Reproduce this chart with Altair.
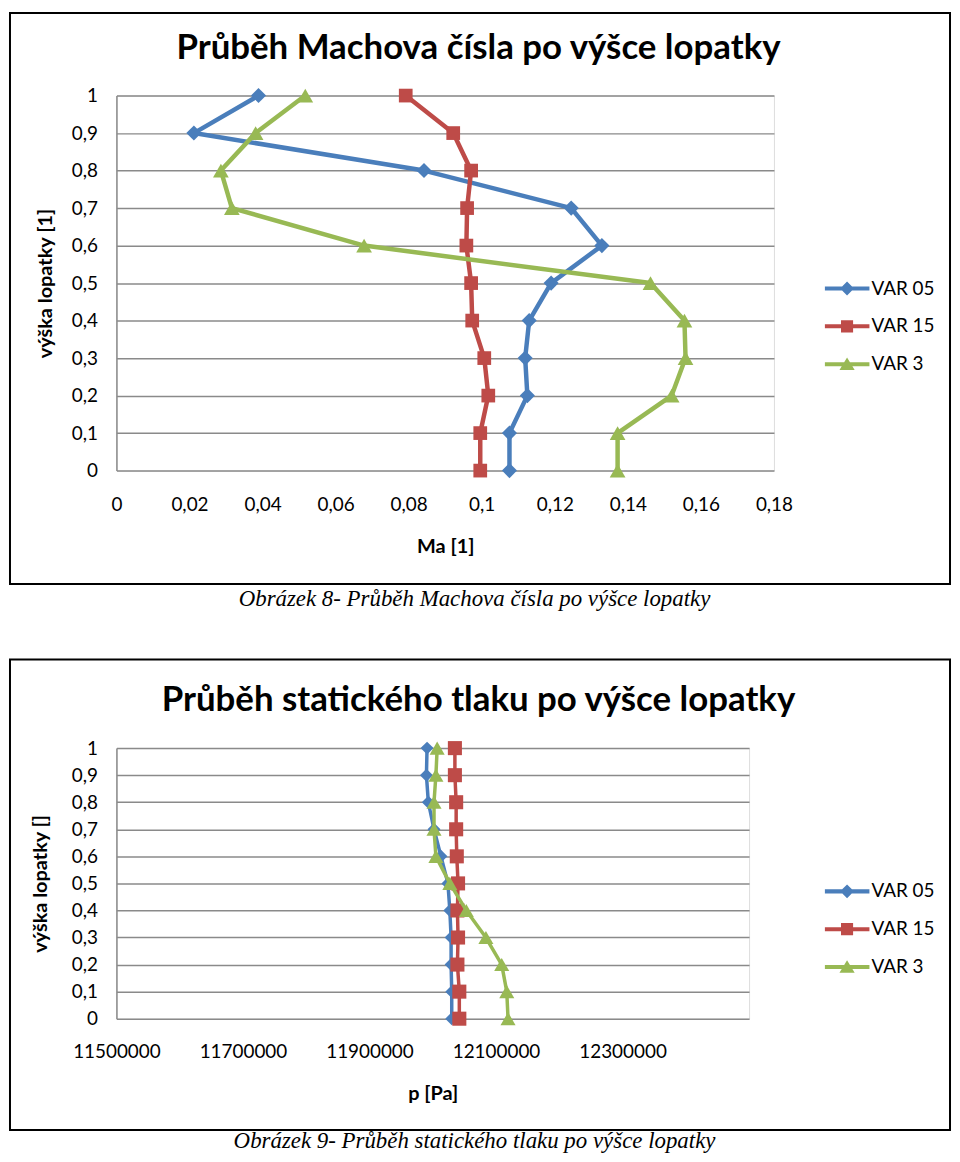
import altair as alt
import pandas as pd

# ---------------- data ----------------
series_names = ["VAR 05", "VAR 15", "VAR 3"]
y_levels = [1.0, 0.9, 0.8, 0.7, 0.6, 0.5, 0.4, 0.3, 0.2, 0.1, 0.0]

ma_var05 = [0.0389, 0.0212, 0.0842, 0.1245, 0.1329, 0.1190, 0.1130, 0.1119, 0.1125, 0.1076, 0.1076]
ma_var15 = [0.0792, 0.0922, 0.0971, 0.0960, 0.0958, 0.0971, 0.0974, 0.1007, 0.1018, 0.0996, 0.0996]
ma_var3 = [0.0517, 0.0381, 0.0286, 0.0316, 0.0678, 0.1462, 0.1555, 0.1558, 0.1520, 0.1372, 0.1372]

p_var05 = [11991000, 11990000, 11993000, 12002000, 12013000, 12024000, 12027000, 12029000, 12029000, 12030000, 12030000]
p_var15 = [12035000, 12035000, 12037000, 12037000, 12038000, 12040000, 12039000, 12040000, 12039000, 12042000, 12042000]
p_var3 = [12007000, 12005000, 12002000, 12002000, 12005000, 12027000, 12053000, 12084000, 12109000, 12117000, 12119000]

ma_ticks = [0, 0.02, 0.04, 0.06, 0.08, 0.1, 0.12, 0.14, 0.16, 0.18]
p_ticks = [11500000, 11700000, 11900000, 12100000, 12300000]

title1 = "Průběh Machova čísla po výšce lopatky"
title2 = "Průběh statického tlaku po výšce lopatky"
caption1 = "Obrázek 8- Průběh Machova čísla po výšce lopatky"
caption2 = "Obrázek 9- Průběh statického tlaku po výšce lopatky"
xtitle1 = "Ma [1]"
xtitle2 = "p [Pa]"
ytitle1 = "výška lopatky [1]"
ytitle2 = "výška lopatky []"

# ---------------- styles ----------------
series_colors = ["#4A7EBB", "#BE4B48", "#98B954"]
marker_shapes = ["diamond", "square", "triangle-up"]
legend_paths = [
    "M-1,-0.09H1V0.09H-1Z M0,-0.31L0.31,0L0,0.31L-0.31,0Z",
    "M-1,-0.09H1V0.09H-1Z M-0.27,-0.27H0.27V0.27H-0.27Z",
    "M-1,-0.09H1V0.09H-1Z M0,-0.3L0.34,0.26L-0.34,0.26Z",
]
GRID = "#8a8a8a"
FONT = "Lato"


def long_df(values_list):
    rows = []
    for name, xs in zip(series_names, values_list):
        for i, (yv, xv) in enumerate(zip(y_levels, xs)):
            rows.append({"series": name, "x": xv, "y": yv, "order": i})
    return pd.DataFrame(rows)


def panel(df, width, height, x_domain, x_ticks, x_axis_extra, x_title, y_title,
          title, caption, box, title_y, caption_y, legend_y, line_w, sizes,
          ytitle_x, xlabel_pad, xtitle_y):
    base = alt.Chart(df)
    xenc = alt.X(
        "x:Q",
        scale=alt.Scale(domain=x_domain, nice=False, zero=False),
        axis=alt.Axis(values=x_ticks, title=x_title, grid=False, domain=False,
                      ticks=False, tickSize=0, labelPadding=xlabel_pad,
                      labelBaseline="middle", labelFontSize=19, labelColor="black",
                      labelFont=FONT, titleFont=FONT, titleFontSize=20,
                      titleFontWeight="bold", titleColor="black",
                      titleY=xtitle_y, titleBaseline="middle", labelFlush=False,
                      labelOverlap=False, **x_axis_extra),
    )
    yenc = alt.Y(
        "y:Q",
        scale=alt.Scale(domain=[0, 1], nice=False),
        axis=alt.Axis(values=y_levels, title=y_title, grid=True, gridColor=GRID,
                      gridWidth=1.5, domain=True, domainColor=GRID, domainWidth=1.5,
                      ticks=False, tickSize=0, labelPadding=19, labelFontSize=19,
                      labelColor="black", labelFont=FONT,
                      labelExpr="replace(format(datum.value, '.2~f'), '.', ',')",
                      titleFont=FONT, titleFontSize=20, titleFontWeight="bold",
                      titleColor="black", titleX=ytitle_x, titleY=height / 2,
                      titleAngle=270, titleBaseline="middle", titleAlign="center",
                      labelOverlap=False),
    )
    cscale = alt.Scale(domain=series_names, range=series_colors)

    layers = []
    for name, shape, size, col in zip(series_names, marker_shapes, sizes, series_colors):
        sub = base.transform_filter(alt.datum.series == name)
        layers.append(
            sub.mark_line(strokeWidth=line_w, strokeJoin="round", strokeCap="round",
                          color=col)
            .encode(x=xenc, y=yenc, order="order:Q")
        )
        layers.append(
            sub.mark_point(shape=shape, filled=True, opacity=1, size=size,
                           strokeWidth=0, color=col)
            .encode(x=xenc, y=yenc)
        )

    leg = dict(title=None, orient="none", legendX=712, legendY=legend_y,
               symbolSize=2025, symbolStrokeWidth=0, labelFont=FONT,
               labelFontSize=19, labelColor="black", labelOffset=2,
               clipHeight=38, rowPadding=0, padding=0, labelLimit=200)
    legend_layer = base.transform_filter("false").mark_point(
        filled=True, opacity=1).encode(
        x=xenc, y=yenc,
        color=alt.Color("series:N", scale=cscale, legend=alt.Legend(**leg)),
        shape=alt.Shape("series:N",
                        scale=alt.Scale(domain=series_names, range=legend_paths),
                        legend=alt.Legend(**leg)),
    )
    layers.append(legend_layer)

    one = alt.Chart(pd.DataFrame({"k": [0]}))
    frame = one.mark_rect(filled=False, stroke="black", strokeWidth=2).encode(
        x=alt.value(box[0]), x2=alt.value(box[1]),
        y=alt.value(box[2]), y2=alt.value(box[3]))
    ttl = one.mark_text(text=title, font=FONT, fontSize=35, fontWeight="bold",
                        color="black", align="center", baseline="middle").encode(
        x=alt.value(364), y=alt.value(title_y))
    cap = one.mark_text(text=caption, font="Liberation Serif", fontStyle="italic",
                        fontSize=23, color="black", align="center",
                        baseline="middle").encode(
        x=alt.value(360), y=alt.value(caption_y))

    return alt.layer(*layers, frame, ttl, cap).properties(width=width, height=height)


df1 = long_df([ma_var05, ma_var15, ma_var3])
df2 = long_df([p_var05, p_var15, p_var3])

c1 = panel(df1, 661, 377, [0, 0.18], ma_ticks,
           {"labelExpr": "replace(format(datum.value, '.2~f'), '.', ',')"},
           xtitle1, ytitle1, title1, caption1,
           box=(-107, 838, -83, 491), title_y=-48, caption_y=506, legend_y=175,
           line_w=4.5, sizes=[230, 190, 250], ytitle_x=-71, xlabel_pad=34,
           xtitle_y=76)

c2 = panel(df2, 636, 272, [11500000, 12500000], p_ticks,
           {"format": "d"},
           xtitle2, ytitle2, title2, caption2,
           box=(-107, 838, -89, 384), title_y=-48, caption_y=395, legend_y=125,
           line_w=3.5, sizes=[170, 200, 230], ytitle_x=-76, xlabel_pad=33,
           xtitle_y=75)

chart = alt.vconcat(c1, c2, spacing=279, bounds="flush").resolve_scale(
    x="independent", y="independent", color="independent", shape="independent"
).resolve_legend(color="independent", shape="independent").properties(
    padding=0, background="white"
).configure_view(strokeWidth=0).configure(font=FONT)

chart.save("out.html", embed_options={"renderer": "svg", "actions": False})
